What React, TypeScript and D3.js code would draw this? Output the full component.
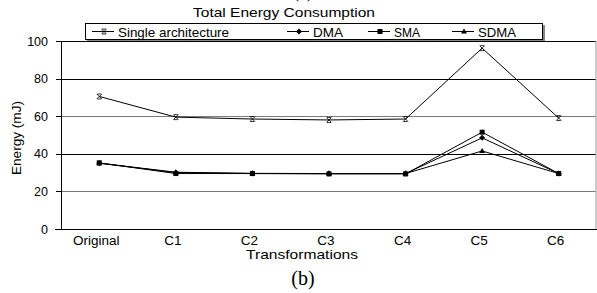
import React from "react";
import * as d3 from "d3";

const categories = ["Original", "C1", "C2", "C3", "C4", "C5", "C6"];
const single = [70.5, 59.5, 58.5, 58, 58.5, 96.2, 59];
const dma = [35, 30, 29.5, 29.5, 29.5, 48.5, 29.5];
const sma = [35.2, 29.5, 29.5, 29.3, 29.3, 51.5, 29.5];
const sdma = [35, 30.2, 29.6, 29.5, 29.5, 41.5, 29.5];
const yTicks = [0, 20, 40, 60, 80, 100];

const W = 597, H = 293;
const FONT = "'Liberation Sans', Arial, sans-serif";
const SERIF = "'Liberation Serif', 'Times New Roman', serif";

function Marker({ kind, x, y }: { kind: string; x: number; y: number }) {
  if (kind === "x")
    return (
      <path d={`M${x - 2.5},${y - 2.5}L${x + 2.5},${y + 2.5}M${x + 2.5},${y - 2.5}L${x - 2.5},${y + 2.5}M${x - 2},${y - 2.5}H${x + 2}M${x - 2},${y + 2.5}H${x + 2}`} stroke="#000" strokeWidth={0.8} fill="none" />
    );
  if (kind === "d")
    return <path d={`M${x},${y - 3}L${x + 3},${y}L${x},${y + 3}L${x - 3},${y}Z`} fill="#000" />;
  if (kind === "s") return <rect x={x - 2.5} y={y - 2.5} width={5} height={5} fill="#000" />;
  return <path d={`M${x},${y - 3}L${x + 3},${y + 2}L${x - 3},${y + 2}Z`} fill="#000" />;
}

export default function App() {
  const x = d3.scaleBand().domain(categories).range([61, 597]);
  const y = d3.scaleLinear().domain([0, 100]).range([229, 41]);
  const cx = (c: string) => (x(c) as number) + x.bandwidth() / 2;
  const line = d3
    .line<number>()
    .x((_, i) => cx(categories[i]))
    .y((d) => y(d));

  const series = [
    { name: "Single architecture", data: single, m: "x", lx: 92, tl: 111 },
    { name: "DMA", data: dma, m: "d", lx: 287, tl: 30 },
    { name: "SMA", data: sma, m: "s", lx: 368, tl: 26 },
    { name: "SDMA", data: sdma, m: "t", lx: 452, tl: 38 },
  ];

  return (
    <svg width={W} height={H} style={{ position: "absolute", left: 0, top: 0 }} fontFamily={FONT}>
      <rect width={W} height={H} fill="#fff" />
      <text x={303} y={-2} textAnchor="middle" fontFamily={SERIF} fontSize={17}>(a)</text>
      <text x={284} y={17} textAnchor="middle" fontSize={13.5} textLength={182} lengthAdjust="spacingAndGlyphs">Total Energy Consumption</text>
      {/* gridlines */}
      {yTicks.slice(1).map((t) => (
        <line key={t} x1={61} x2={596} y1={Math.round(y(t)) + 0.5} y2={Math.round(y(t)) + 0.5} stroke={t === 60 || t === 20 ? "#7a7a7a" : "#000"} strokeWidth={1} />
      ))}
      {/* right frame */}
      <line x1={596} x2={596} y1={41} y2={229} stroke="#999" strokeWidth={1} />
      {/* axes */}
      <line x1={61.5} x2={61.5} y1={41} y2={230} stroke="#000" strokeWidth={1} />
      <line x1={55} x2={597} y1={229.5} y2={229.5} stroke="#000" strokeWidth={1} />
      {yTicks.map((t) => (
        <g key={t}>
          <line x1={56} x2={61} y1={Math.round(y(t)) + 0.5} y2={Math.round(y(t)) + 0.5} stroke="#000" />
          <text x={48} y={y(t) + 4.5} textAnchor="end" fontSize={12.5}>{t}</text>
        </g>
      ))}
      {categories.map((c) => (
        <text key={c} x={cx(c) - 3} y={245} textAnchor="middle" fontSize={13.5}>{c}</text>
      ))}
      <text x={302} y={259} textAnchor="middle" fontSize={13.5} textLength={112} lengthAdjust="spacingAndGlyphs">Transformations</text>
      <text transform="translate(21,138) rotate(-90)" textAnchor="middle" fontSize={13.5} textLength={74} lengthAdjust="spacingAndGlyphs">Energy (mJ)</text>
      <text x={303} y={285} textAnchor="middle" fontFamily={SERIF} fontSize={20}>(b)</text>
      {/* lines */}
      {series.map((s) => (
        <g key={s.name}>
          <path d={line(s.data) || ""} fill="none" stroke="#000" strokeWidth={1} />
          {s.data.map((v, i) => (
            <Marker key={i} kind={s.m} x={cx(categories[i])} y={y(v)} />
          ))}
        </g>
      ))}
      {/* legend */}
      <rect x={87} y={25} width={458} height={16} fill="#888" />
      <rect x={85.5} y={23.5} width={457} height={16} fill="#fff" stroke="#000" strokeWidth={1} />
      {series.map((s) => (
        <g key={s.name}>
          <line x1={s.lx} x2={s.lx + 22} y1={31.5} y2={31.5} stroke="#000" />
          <Marker kind={s.m} x={s.lx + 12} y={31.5} />
          <text x={s.lx + 26} y={36.5} fontSize={13.5} textLength={s.tl} lengthAdjust="spacingAndGlyphs">{s.name}</text>
        </g>
      ))}
    </svg>
  );
}
